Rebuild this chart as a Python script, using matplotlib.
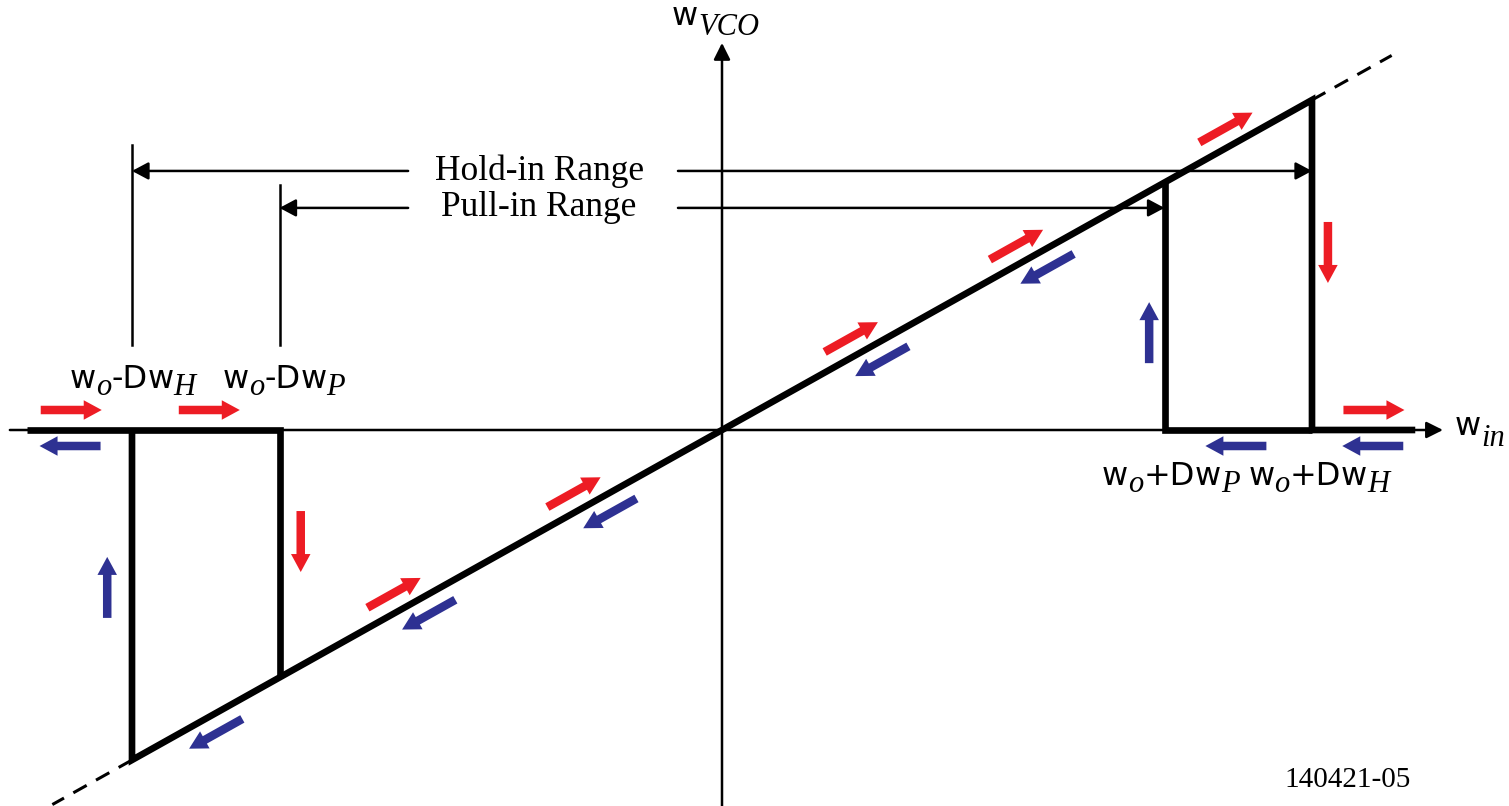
import matplotlib
matplotlib.use('Agg')
import matplotlib.pyplot as plt
import matplotlib.transforms as mtransforms
from matplotlib.patches import FancyArrowPatch

# diagram values (normalised: hold-in range = 1, VCO gain = 1)
hold_in = 1.0
pull_in = 0.75
vco_gain = 1.0
range_names = ["Hold-in Range", "Pull-in Range"]
range_edges = [hold_in, pull_in]
fig_tag = "140421-05"

RED = "#ED1C24"
BLUE = "#2E3192"

# pixel scale of one unit on each axis
SX, SY = 590.0, 330.0
X0, Y0 = 722.0, 430.0
W, H = 1509, 806

fig = plt.figure(figsize=(W / 100, H / 100), dpi=100)
ax = fig.add_axes([0, 0, 1, 1])
ax.set_xlim(-X0 / SX, (W - X0) / SX)
ax.set_ylim((Y0 - H) / SY, Y0 / SY)
ax.axis("off")


def px(dx, dy):
    # pixel offset -> data offset (dy positive = up)
    return dx / SX, dy / SY


def vco(x):
    return vco_gain * x


# axes with arrow heads
for start, tip in [((-1.207, 0), (1.222, 0)), ((0, -1.2), (0, 1.173))]:
    ax.annotate("", xy=tip, xytext=start,
                arrowprops=dict(arrowstyle="-|>,head_length=0.5,head_width=0.25",
                                mutation_scale=20, lw=1.8, color="black",
                                shrinkA=0, shrinkB=0))

# thick transfer curve
thick = dict(color="black", lw=4.8, solid_joinstyle="miter", solid_capstyle="butt")
ax.plot([-1.178, -pull_in, -pull_in], [0, 0, vco(-pull_in)], **thick)
ax.plot([-hold_in, -hold_in, hold_in, hold_in, 1.175],
        [0, vco(-hold_in), vco(hold_in), 0, 0], **thick)
ax.plot([pull_in, pull_in, hold_in], [vco(pull_in), 0, 0], **thick)

# dashed extensions
ext = 1.135
ax.plot([hold_in, ext], [vco(hold_in), vco(ext)], color="black", lw=2.2,
        dashes=(5, 3.5))
ax.plot([-hold_in, -ext], [vco(-hold_in), vco(-ext)], color="black", lw=2.2,
        dashes=(5, 3.5))

# range markers on the left
ax.plot([-hold_in, -hold_in], [0.258, 0.864], color="black", lw=1.8)
ax.plot([-pull_in, -pull_in], [0.258, 0.742], color="black", lw=1.8)

range_y = [0.785, 0.673]
for name, edge, yy in zip(range_names, range_edges, range_y):
    for tip, tail in [(-edge, -0.532), (edge, -0.0746)]:
        ax.annotate("", xy=(tip, yy), xytext=(tail, yy),
                    arrowprops=dict(arrowstyle="-|>,head_length=0.45,head_width=0.24",
                                    mutation_scale=22, lw=1.8, color="black",
                                    shrinkA=0, shrinkB=0))
    ax.text(-0.31, yy, name, ha="center", va="center",
            family="Liberation Serif", fontsize=25.5)


# coloured direction arrows
def flow(cx, cy, ddx, ddy, color):
    L = 61.0
    hx, hy = px(ddx * L / 2, ddy * L / 2)
    a = FancyArrowPatch((cx - hx, cy - hy), (cx + hx, cy + hy),
                        arrowstyle="simple,head_length=0.72,head_width=0.78,tail_width=0.34",
                        mutation_scale=18, color=color, lw=0,
                        shrinkA=0, shrinkB=0)
    ax.add_patch(a)


n = (590.0 ** 2 + 330.0 ** 2) ** 0.5
ux, uy = 590.0 / n, 330.0 / n          # along the line (pixels, up)
red_x = [0.869, 0.514, 0.234, -0.236, -0.541]
blue_x = [0.536, 0.256, -0.205, -0.512, -0.873]
for x in red_x:
    ox, oy = px(-uy * 18, ux * 18)
    flow(x + ox, vco(x) + oy, ux, uy, RED)
for x in blue_x:
    ox, oy = px(uy * 18, -ux * 18)
    flow(x + ox, vco(x) + oy, -ux, -uy, BLUE)

# horizontal / vertical flow arrows
ox, oy = px(0, 20)
for x in [-1.103, -0.869, 1.105]:
    flow(x, oy, 1, 0, RED)
ox, oy = px(0, -16)
for x in [-1.105, 0.871, 1.103]:
    flow(x, oy, -1, 0, BLUE)
flow(1.027, 0.538, 0, -1, RED)
flow(-0.714, -0.338, 0, -1, RED)
flow(0.724, 0.295, 0, 1, BLUE)
flow(-1.042, -0.477, 0, 1, BLUE)

# labels built from pieces (sans glyphs + italic serif subscripts)
sans = dict(family="DejaVu Sans", fontsize=23)
ital = dict(family="Liberation Serif", style="italic", fontsize=22)


def rich(x, y, pieces):
    r = fig.canvas.get_renderer()
    dx = 0.0
    for s, kw, dy in pieces:
        tr = ax.transData + mtransforms.Affine2D().translate(dx, -dy)
        t = ax.text(x, y, s, transform=tr, ha="left", va="baseline", **kw)
        dx += t.get_window_extent(r).width


def freq(sign, sub, x, y):
    rich(x, y, [("w", sans, 0), ("o", ital, 7), (sign + "D", sans, 0),
                ("w", sans, 0), (sub, ital, 7)])


freq("-", "H", -1.105, 0.127)
freq("-", "P", -0.846, 0.127)
freq("+", "P", 0.644, -0.167)
freq("+", "H", 0.892, -0.167)
rich(-0.085, 1.227, [("w", sans, 0), ("VCO", ital, 10)])
rich(1.242, -0.015, [("w", sans, 0), ("in", ital, 11)])

ax.text(1.061, -1.06, fig_tag, ha="center", va="center",
        family="Liberation Serif", fontsize=21)

fig.savefig("out.png", dpi=100)
